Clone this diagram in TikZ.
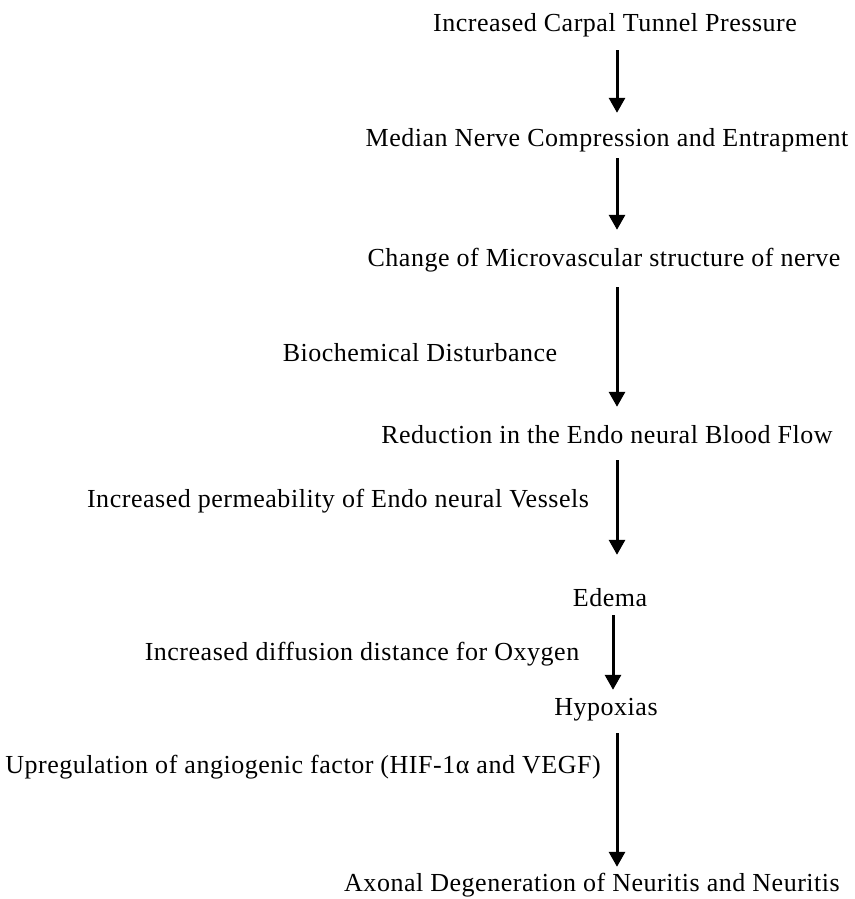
\documentclass[tikz,border=0pt]{standalone}
\usepackage{fontspec}
\setmainfont{Liberation Serif}[LetterSpace=2]
\usetikzlibrary{arrows.meta}
\tikzset{
lbl/.style={inner sep=0pt,text height=20.6pt,text depth=3.4pt,font=\fontsize{26}{30}\selectfont},
flow/.style={line width=3pt,-{Triangle[width=16pt,length=15pt]}}
}
\begin{document}
\begin{tikzpicture}[x=1pt,y=-1pt]
\useasboundingbox (0,0) rectangle (854,899);

%%%% steps
%%%%
\foreach[count=\i] \x/\y/\t in{
615/23/{Increased Carpal Tunnel Pressure},
607/138/{Median Nerve Compression and Entrapment},
604/258/{Change of Microvascular structure of nerve},
607/435/{Reduction in the Endo neural Blood Flow},
610/598/{Edema},
606/707/{Hypoxias},
592/883/{Axonal Degeneration of Neuritis and Neuritis}%
}{
\node[lbl](\i) at(\x,\y) {\t};
}

%%%% side notes
%%%%
\node[lbl](b) at(420,353) {Biochemical Disturbance};
\node[lbl](p) at(338,499) {Increased permeability of Endo neural Vessels};
\node[lbl](d) at(362,652) {Increased diffusion distance for Oxygen};
\node[lbl](u) at(303,765) {Upregulation of angiogenic factor (HIF-1α and VEGF)};

%%%% arrows
%%%%
\coordinate(ax) at(617,0);
\coordinate(ex) at(613,0);
\foreach \u/\v/\c/\a/\b in{
1/2/ax/15/13,2/3/ax/8/16,3/4/ax/17/16,4/5/ax/13/31,5/6/ex/5/5,6/7/ax/14/4%
}{
\draw[flow,shorten <=\a pt,shorten >=\b pt] (\u.south -| \c) -- (\v.north -| \c);
}

\end{tikzpicture}
\end{document}
